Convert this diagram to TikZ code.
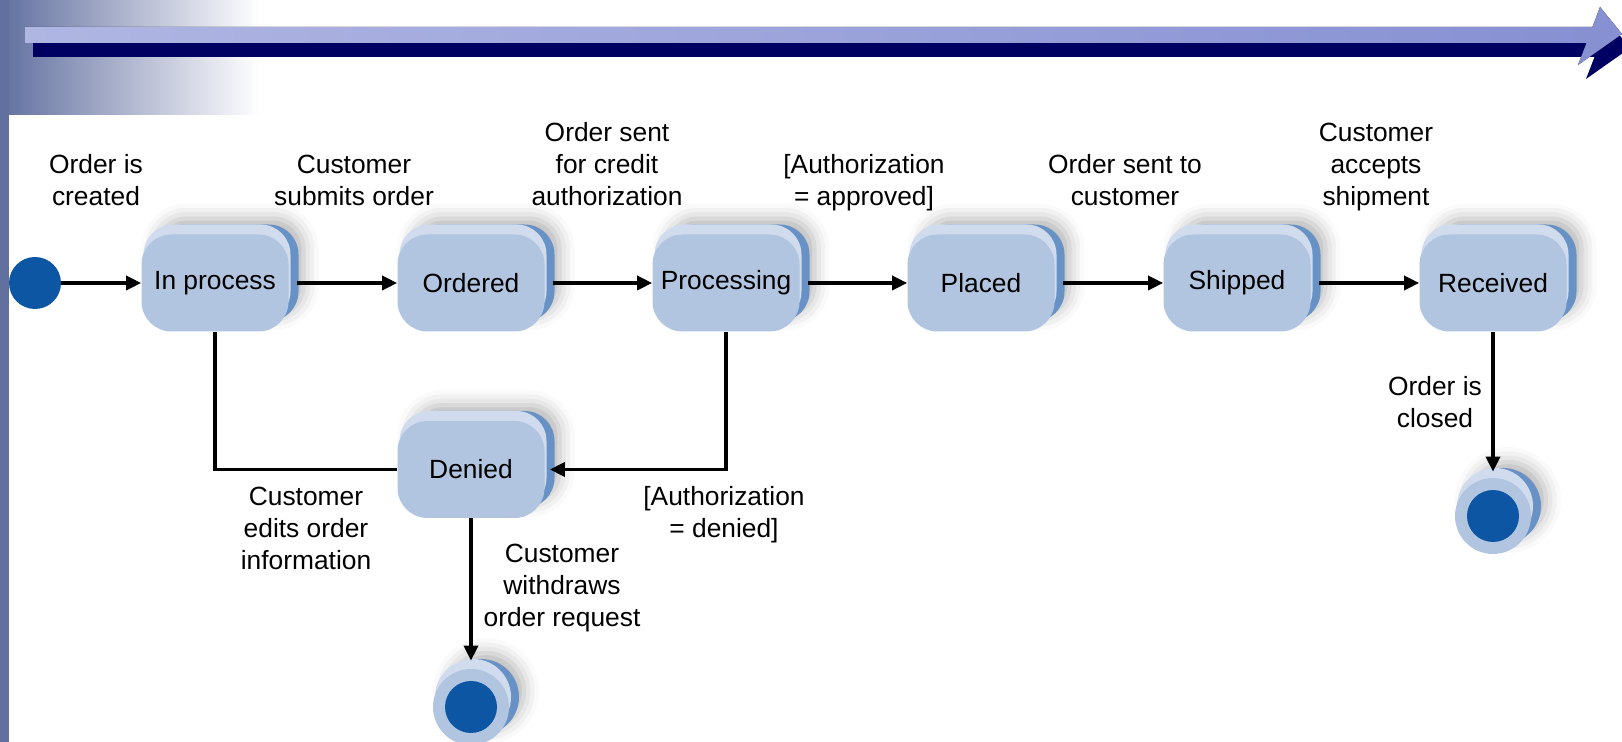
\documentclass[tikz,border=0pt]{standalone}
\usepackage{fontspec}
\setmainfont{Liberation Sans}
\usepackage{tikz}
\usetikzlibrary{shapes, arrows.meta, positioning, calc, shadows.blur}
\definecolor{dotblue}{RGB}{12, 86, 163}
\definecolor{statefill}{RGB}{177, 197, 224}
\definecolor{statetop}{RGB}{208, 220, 237}
\definecolor{stateside}{RGB}{104, 146, 198}
\definecolor{barlight}{RGB}{176, 182, 226}
\definecolor{barmid}{RGB}{134, 144, 210}
\definecolor{barnavy}{RGB}{0, 0, 98}
\definecolor{slate}{RGB}{98, 112, 160}

\begin{document}
\begin{tikzpicture}[
  lbl/.style={font=\fontsize{15}{18.2}\selectfont, align=center, inner sep=0pt},
  solid3d/.style={
    blur shadow={shadow xshift=0.3cm, shadow yshift=0.32cm, shadow blur radius=0.3cm, shadow opacity=30},
    preaction={fill=stateside, transform canvas={shift={(0.2cm,0.2cm)}}},
    preaction={fill=statetop, transform canvas={shift={(0.04cm,0.2cm)}}},
    fill=statefill},
  statebox/.style={solid3d, rounded corners=0.6cm, minimum width=2.94cm, minimum height=1.94cm,
    inner sep=0pt, font=\fontsize{15}{18}\selectfont},
  initdot/.style={circle, fill=dotblue, minimum size=1.04cm, inner sep=0pt},
  finaldot/.style={solid3d, circle, minimum size=1.52cm, inner sep=0pt},
  trans/.style={line width=2pt, -{Triangle[length=0.3cm, width=0.28cm]}},
  link/.style={line width=2pt}
]
  \useasboundingbox (0,0) rectangle (32.44,14.84);

  % Slide decoration
  \shade[left color=slate, right color=white] (0,12.54) rectangle (5.2,14.84);
  \fill[slate] (0,0) rectangle (0.18,14.84);
  \fill[barnavy, shift={(0.16,-0.28)}] (0.5,14.3) -- (31.85,14.3) -- (32.0,14.7) -- (32.44,14.16)
    -- (31.56,13.54) -- (31.73,13.98) -- (0.5,13.98) -- cycle;
  \fill[left color=barlight, right color=barmid] (0.5,14.3) -- (31.85,14.3) -- (32.0,14.7) -- (32.44,14.16)
    -- (31.56,13.54) -- (31.73,13.98) -- (0.5,13.98) -- cycle;

  % States
  \node[initdot] (init) at (0.7, 9.18) {};
  \node[statebox] (inproc) at (4.3, 9.18) {In process};
  \node[statebox] (ordered) at (9.42, 9.18) {Ordered};
  \node[statebox] (proc) at (14.52, 9.18) {Processing};
  \node[statebox] (placed) at (19.62, 9.18) {Placed};
  \node[statebox] (shipped) at (24.74, 9.18) {Shipped};
  \node[statebox] (recv) at (29.86, 9.18) {Received};
  \node[statebox] (denied) at (9.42, 5.45) {Denied};

  \node[finaldot] (finA) at (9.42, 0.7) {};
  \fill[dotblue] (finA.center) circle (0.52cm);
  \node[finaldot] (finB) at (29.86, 4.52) {};
  \fill[dotblue] (finB.center) circle (0.52cm);

  % Transitions
  \draw[trans] (init.east) -- (inproc.west);
  \draw[trans] ([xshift=0.16cm]inproc.east) -- (ordered.west);
  \draw[trans] ([xshift=0.16cm]ordered.east) -- (proc.west);
  \draw[trans] ([xshift=0.16cm]proc.east) -- (placed.west);
  \draw[trans] ([xshift=0.16cm]placed.east) -- (shipped.west);
  \draw[trans] ([xshift=0.16cm]shipped.east) -- (recv.west);
  \draw[trans] (proc.south) |- ([xshift=0.1cm]denied.east);
  \draw[link] (inproc.south) |- (denied.west);
  \draw[trans] (denied.south) -- ([yshift=0.16cm]finA.north);
  \draw[trans] (recv.south) -- ([yshift=0.12cm]finB.north);

  % Labels
  \node[lbl] (lcreated) at (1.92, 11.24) {Order is\\created};
  \node[lbl] (lsubmit) at (7.08, 11.24) {Customer\\submits order};
  \node[lbl] (lcredit) at (12.14, 11.56) {Order sent\\for credit\\authorization};
  \node[lbl] (lapproved) at (17.28, 11.18) {[Authorization\\= approved]};
  \node[lbl] (lsent) at (22.5, 11.24) {Order sent to\\customer};
  \node[lbl] (laccept) at (27.52, 11.5) {Customer\\accepts\\shipment};
  \node[lbl] (lclosed) at (28.7, 6.8) {Order is\\closed};
  \node[lbl] (ledit) at (6.12, 4.28) {Customer\\edits order\\information};
  \node[lbl] (ldenied) at (14.48, 4.54) {[Authorization\\= denied]};
  \node[lbl] (lwithdraw) at (11.24, 3.07) {Customer\\withdraws\\order request};
\end{tikzpicture}
\end{document}
